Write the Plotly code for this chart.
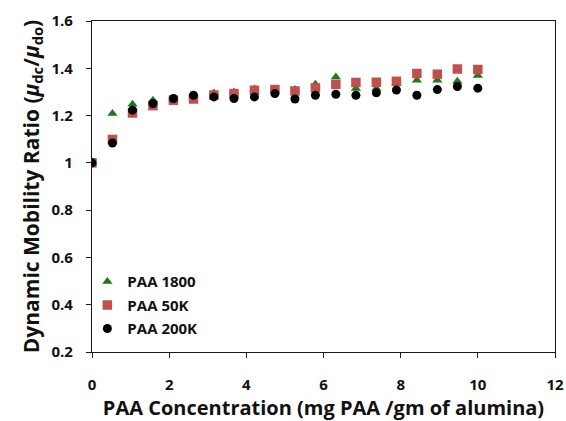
import plotly.graph_objects as go

# PAA dosage (mg PAA per gm of alumina)
conc = [0, 0.53, 1.05, 1.58, 2.11, 2.63, 3.16, 3.68, 4.21, 4.74,
        5.26, 5.79, 6.32, 6.84, 7.37, 7.89, 8.42, 8.95, 9.47, 10.0]

# dynamic mobility ratio for each molecular weight
paa_1800 = [1.0, 1.209, 1.248, 1.265, 1.270, 1.285, 1.295, 1.300, 1.312, 1.312,
            1.310, 1.332, 1.363, 1.314, 1.314, 1.335, 1.349, 1.349, 1.345, 1.370]
paa_50k = [1.0, 1.099, 1.211, 1.242, 1.265, 1.270, 1.287, 1.293, 1.307, 1.310,
           1.304, 1.317, 1.332, 1.340, 1.341, 1.345, 1.378, 1.375, 1.397, 1.395]
paa_200k = [1.0, 1.084, 1.223, 1.251, 1.272, 1.286, 1.279, 1.272, 1.279, 1.293,
            1.270, 1.286, 1.290, 1.286, 1.296, 1.308, 1.286, 1.310, 1.323, 1.316]

x_ticks = [0, 2, 4, 6, 8, 10, 12]
y_ticks = [0.2, 0.4, 0.6, 0.8, 1.0, 1.2, 1.4, 1.6]
y_tick_text = ["0.2", "0.4", "0.6", "0.8", "1", "1.2", "1.4", "1.6"]

FONT = "Open Sans"

fig = go.Figure()
series = [
    ("PAA 1800", paa_1800, "triangle-up", 9, "#1f7a1f"),
    ("PAA 50K", paa_50k, "square", 9.5, "#c0504d"),
    ("PAA 200K", paa_200k, "circle", 9, "#000000"),
]
for name, vals, sym, size, color in series:
    fig.add_trace(go.Scatter(
        x=conc, y=vals, mode="markers", name=name, legendgroup=name,
        marker=dict(symbol=sym, size=size, color=color, line=dict(width=0)),
    ))

axis_common = dict(
    showgrid=False, zeroline=False, showline=True, linecolor="#1a1a1a",
    linewidth=1.3, mirror=True, ticks="outside", ticklen=5, tickwidth=1.2,
    tickcolor="#1a1a1a",
    tickfont=dict(family=FONT, size=15, color="#111", weight="bold"),
)

fig.update_xaxes(
    range=[0, 12], tickvals=x_ticks, ticklabelstandoff=14,
    title=dict(text="PAA Concentration (mg PAA /gm of alumina)", standoff=0,
               font=dict(family=FONT, size=20, color="#111", weight="bold")),
    **axis_common,
)
fig.update_yaxes(
    range=[0.2, 1.6], tickvals=y_ticks, ticktext=y_tick_text, ticklabelstandoff=10,
    title=dict(text="Dynamic Mobility Ratio (<i>μ</i><sub>dc</sub>/<i>μ</i><sub>do</sub>)",
               standoff=6,
               font=dict(family=FONT, size=21, color="#111", weight="bold")),
    **axis_common,
)

fig.update_layout(
    width=566, height=421,
    margin=dict(l=92, r=11, t=21, b=69, autoexpand=False),
    paper_bgcolor="white", plot_bgcolor="white",
    showlegend=True,
    legend=dict(
        x=-0.01, y=0.262, xanchor="left", yanchor="top",
        traceorder="grouped", tracegroupgap=1,
        bgcolor="rgba(0,0,0,0)",
        font=dict(family=FONT, size=15, color="#111", weight="bold"),
    ),
)

fig.write_html("out.html")
